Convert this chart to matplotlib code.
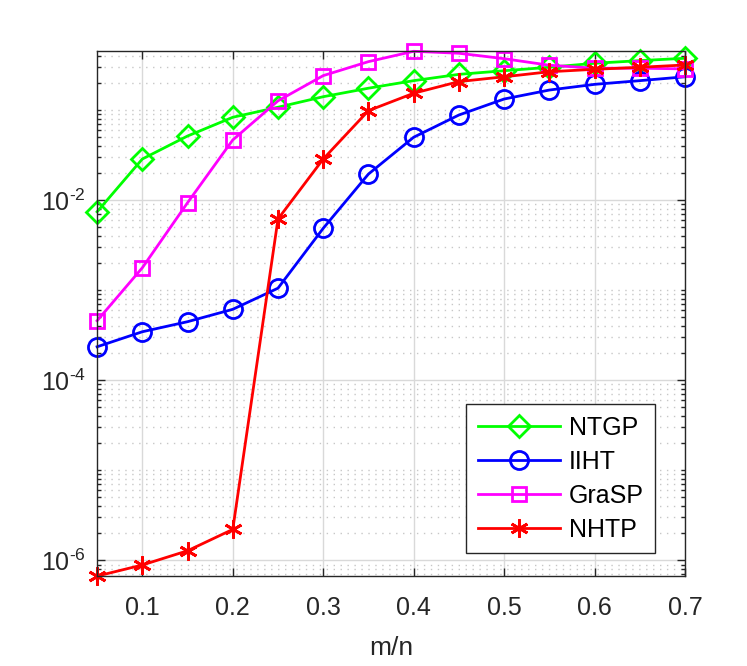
import numpy as np
import matplotlib.pyplot as plt
from matplotlib.ticker import LogLocator, NullFormatter, FixedLocator

plt.rcParams['font.family'] = ['Liberation Sans', 'DejaVu Sans']
plt.rcParams['mathtext.fontset'] = 'custom'
plt.rcParams['mathtext.rm'] = 'Liberation Sans'
plt.rcParams['mathtext.it'] = 'Liberation Sans'
plt.rcParams['axes.unicode_minus'] = False

# данные
ratio = [0.05, 0.1, 0.15, 0.2, 0.25, 0.3, 0.35, 0.4, 0.45, 0.5, 0.55, 0.6, 0.65, 0.7]
ntgp = [7.4e-3, 0.0285, 0.0513, 0.0828, 0.107, 0.140, 0.174, 0.211, 0.248, 0.272, 0.297, 0.329, 0.352, 0.374]
iiht = [2.35e-4, 3.45e-4, 4.46e-4, 6.12e-4, 1.05e-3, 4.85e-3, 0.0194, 0.0497, 0.0877, 0.132, 0.166, 0.192, 0.211, 0.233]
grasp = [4.57e-4, 1.77e-3, 9.33e-3, 0.0464, 0.126, 0.240, 0.343, 0.447, 0.425, 0.370, 0.313, 0.290, 0.290, 0.285]
nhtp = [6.7e-7, 8.9e-7, 1.28e-6, 2.21e-6, 6.15e-3, 0.0285, 0.098, 0.153, 0.206, 0.233, 0.265, 0.282, 0.297, 0.315]
xticks = [0.1, 0.2, 0.3, 0.4, 0.5, 0.6, 0.7]
yticks = [1e-6, 1e-4, 1e-2]

dark = (0.15, 0.15, 0.15)
fig = plt.figure(figsize=(7.47, 6.66), dpi=100)
ax = fig.add_axes([0.130, 0.135, 0.787, 0.788])

kw = dict(lw=2, mfc='none', mew=2, clip_on=False)
ax.plot(ratio, ntgp, '-', color=(0, 1, 0), marker='D', ms=11, label='NTGP', **kw)
ax.plot(ratio, iiht, '-', color=(0, 0, 1), marker='o', ms=13, label='IIHT', **kw)
ax.plot(ratio, grasp, '-', color=(1, 0, 1), marker='s', ms=10, label='GraSP', **kw)
ax.plot(ratio, nhtp, '-', color=(1, 0, 0), marker=(6, 2, 0), ms=13, label='NHTP', **kw)

ax.set_yscale('log')
ax.set_xlim(min(ratio), max(ratio))
allv = ntgp + iiht + grasp + nhtp
ax.set_ylim(min(allv), max(allv))

ax.xaxis.set_major_locator(FixedLocator(xticks))
ax.set_xticklabels([f'{t:g}' for t in xticks])
ax.yaxis.set_major_locator(FixedLocator(yticks))
ax.set_yticklabels([r'10$^{\text{-%d}}$' % int(-np.log10(t)) for t in yticks])
ax.yaxis.set_minor_locator(LogLocator(base=10, subs=np.arange(1, 10), numticks=100))
ax.yaxis.set_minor_formatter(NullFormatter())

ax.tick_params(which='both', direction='in', top=True, right=True, colors=dark,
               labelsize=18, width=1)
ax.tick_params(which='major', length=6)
ax.tick_params(which='minor', length=3)
ax.tick_params(axis='x', pad=14)
ax.tick_params(axis='y', pad=8)
for s in ax.spines.values():
    s.set_color(dark)
    s.set_linewidth(1)

ax.grid(True, which='major', color=(0.85, 0.85, 0.85), lw=1)
ax.grid(True, which='minor', axis='y', color=(0.78, 0.78, 0.78), lw=1, ls=(0, (1, 4)))
ax.set_axisbelow(True)

ax.set_xlabel('m/n', fontsize=19, color=dark, labelpad=12)

leg = ax.legend(loc='lower right', bbox_to_anchor=(0.949, 0.044), borderaxespad=0,
                fontsize=18, handlelength=3.3, handletextpad=0.35, fancybox=False,
                edgecolor=dark, framealpha=1, labelspacing=0.4, borderpad=0.45)
leg.get_frame().set_linewidth(1)

fig.savefig('out.png', dpi=100)
